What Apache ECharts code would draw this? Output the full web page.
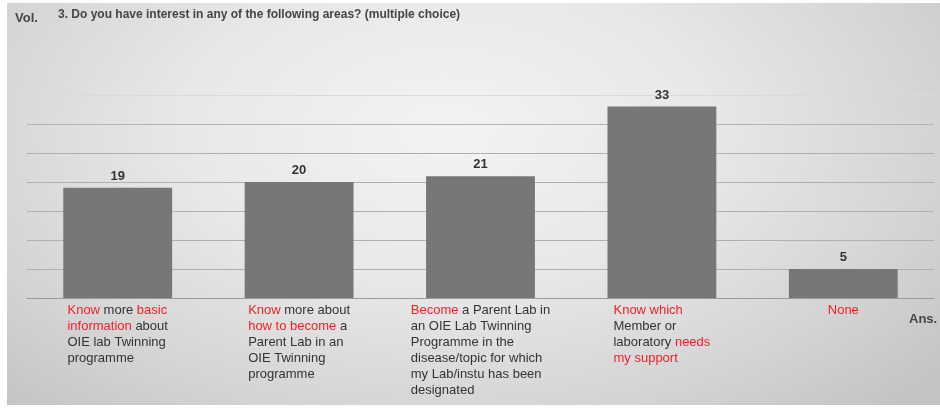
<!DOCTYPE html>
<html lang="en">
  <head>
    <meta charset="UTF-8" />
    <title>Interest areas</title>
    <script src="https://cdn.jsdelivr.net/npm/echarts@6.0.0/dist/echarts.min.js"></script>
    <style>
      html, body { margin: 0; padding: 0; background: #fff; }
      #wrap { position: relative; width: 940px; height: 410px; }
      #bg {
        position: absolute; left: 7px; top: 3px; width: 933px; height: 402px;
        background: radial-gradient(ellipse 70% 95% at 47% 32%, #f3f3f3 0%, #e8e8e8 40%, #d4d4d4 75%, #c3c3c3 100%);
      }
      #main { position: absolute; left: 0; top: 0; width: 940px; height: 410px; }
    </style>
  </head>
  <body>
    <div id="wrap">
      <div id="bg"></div>
      <div id="main"></div>
    </div>
    <script>
      // answers, red words marked with {r|..}, black with {k|..}
      var categories = [
        "{r|Know }{k|more }{r|basic}\n{r|information }{k|about}\n{k|OIE lab Twinning}\n{k|programme}",
        "{r|Know }{k|more about}\n{r|how to become }{k|a}\n{k|Parent Lab in an}\n{k|OIE Twinning}\n{k|programme}",
        "{r|Become }{k|a Parent Lab in}\n{k|an OIE Lab Twinning}\n{k|Programme in the}\n{k|disease/topic for which}\n{k|my Lab/instu has been}\n{k|designated}",
        "{r|Know which}\n{k|Member or}\n{k|laboratory }{r|needs}\n{r|my support}",
        "{r|None}"
      ];
      var votes = [19, 20, 21, 33, 5];
      var question = "3. Do you have interest in any of the following areas? (multiple choice)";

      var font = "Liberation Sans, Arial, sans-serif";
      var chart = echarts.init(document.getElementById("main"));
      var option = {
        backgroundColor: "transparent",
        animation: false,
        title: [
          {
            text: "Vol.", left: 10, top: 7,
            textStyle: { fontFamily: font, fontSize: 13, fontWeight: "bold", color: "#454545" }
          },
          {
            text: question, left: 53, top: 4,
            textStyle: { fontFamily: font, fontSize: 12, fontWeight: "bold", color: "#454545" }
          },
          {
            text: "Ans.", left: 904, top: 308,
            textStyle: { fontFamily: font, fontSize: 13, fontWeight: "bold", color: "#454545" }
          }
        ],
        grid: { left: 27, right: 6, top: 95, bottom: 112 },
        xAxis: {
          type: "category",
          data: categories,
          axisTick: { show: false },
          axisLine: { lineStyle: { color: "#9a9a9a", width: 1 } },
          axisLabel: {
            interval: 0,
            margin: 4,
            align: "center",
            verticalAlign: "top",
            fontFamily: font,
            fontSize: 13,
            lineHeight: 16,
            color: "#333",
            rich: {
              r: { color: "#ee2229", fontFamily: font, fontSize: 13, lineHeight: 16, align: "left" },
              k: { color: "#333333", fontFamily: font, fontSize: 13, lineHeight: 16, align: "left" }
            }
          }
        },
        yAxis: {
          type: "value",
          min: 0,
          max: 35,
          interval: 5,
          axisLabel: { show: false },
          axisLine: { show: false },
          axisTick: { show: false },
          splitLine: {
            lineStyle: {
              color: ["#b0b0b0", "#b0b0b0", "#b0b0b0", "#b0b0b0", "#b0b0b0", "#b0b0b0", "#b4b4b4", "#dadada"],
              width: 1
            }
          }
        },
        series: [
          {
            type: "bar",
            data: votes,
            barCategoryGap: "40%",
            itemStyle: { color: "#777777" },
            label: {
              show: true,
              position: "top",
              distance: 5,
              fontFamily: font,
              fontSize: 13,
              fontWeight: "bold",
              color: "#333"
            }
          }
        ]
      };
      chart.setOption(option);
    </script>
  </body>
</html>
